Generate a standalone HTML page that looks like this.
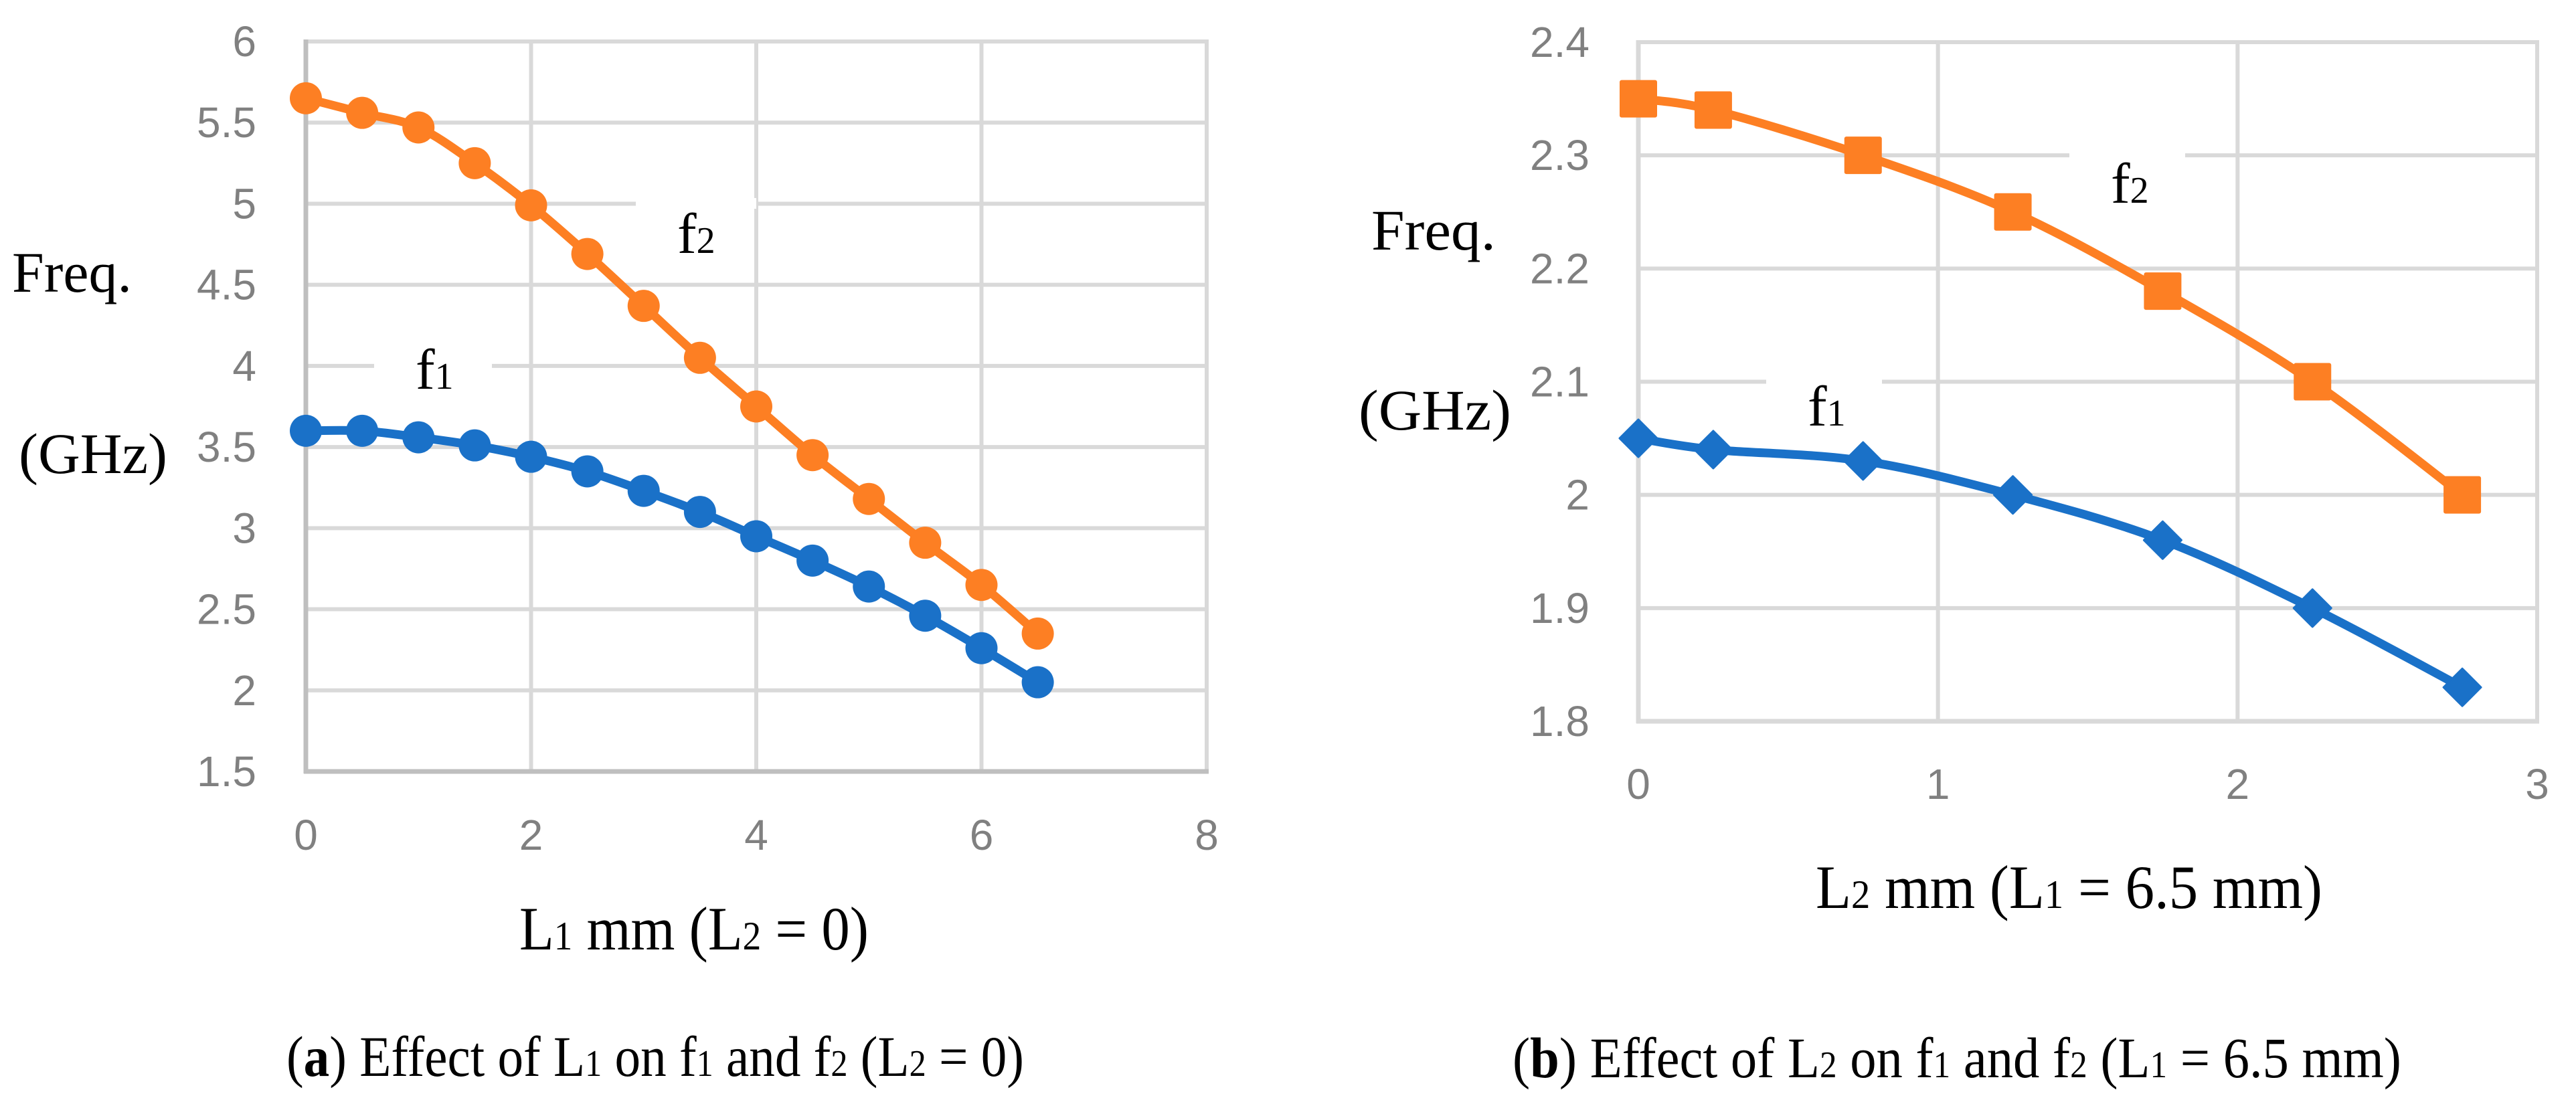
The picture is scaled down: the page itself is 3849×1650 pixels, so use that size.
<!DOCTYPE html>
<html><head><meta charset="utf-8"><style>
html,body{margin:0;padding:0;background:#fff;}
svg{display:block;}
.tick{font-family:"Liberation Sans",sans-serif;font-size:64px;fill:#808080;}
.ser{font-family:"Liberation Serif",serif;fill:#000;}
</style></head><body>
<svg id="chart" width="3849" height="1650" viewBox="0 0 3849 1650" xmlns="http://www.w3.org/2000/svg">
<g id="gA"></g>
<g id="gB"></g>
<text class="ser" x="18" y="436" font-size="86" textLength="179" lengthAdjust="spacingAndGlyphs">Freq.</text>
<text class="ser" x="28" y="707" font-size="86" textLength="222" lengthAdjust="spacingAndGlyphs">(GHz)</text>
<text class="ser" x="2049" y="373" font-size="86" textLength="186" lengthAdjust="spacingAndGlyphs">Freq.</text>
<text class="ser" x="2030" y="642" font-size="86" textLength="228" lengthAdjust="spacingAndGlyphs">(GHz)</text>
<text class="ser" x="776" y="1419" font-size="92" textLength="522" lengthAdjust="spacingAndGlyphs">L<tspan font-size="60">1</tspan> mm (L<tspan font-size="60">2</tspan> = 0)</text>
<text class="ser" x="2713" y="1357" font-size="92" textLength="757" lengthAdjust="spacingAndGlyphs">L<tspan font-size="60">2</tspan> mm (L<tspan font-size="60">1</tspan> = 6.5 mm)</text>
<text class="ser" x="428" y="1608" font-size="86" textLength="1102" lengthAdjust="spacingAndGlyphs">(<tspan font-weight="bold">a</tspan>) Effect of L<tspan font-size="56">1</tspan> on f<tspan font-size="56">1</tspan> and f<tspan font-size="56">2</tspan> (L<tspan font-size="56">2</tspan> = 0)</text>
<text class="ser" x="2260" y="1610" font-size="86" textLength="1328" lengthAdjust="spacingAndGlyphs">(<tspan font-weight="bold">b</tspan>) Effect of L<tspan font-size="56">2</tspan> on f<tspan font-size="56">1</tspan> and f<tspan font-size="56">2</tspan> (L<tspan font-size="56">1</tspan> = 6.5 mm)</text>
</svg>
<script>
// Chart A data
const aX = [0,0.5,1,1.5,2,2.5,3,3.5,4,4.5,5,5.5,6,6.5];
const aF2 = [5.65,5.56,5.47,5.25,4.99,4.69,4.37,4.05,3.75,3.45,3.18,2.91,2.65,2.35];
const aF1 = [3.6,3.6,3.56,3.51,3.44,3.35,3.23,3.1,2.95,2.8,2.64,2.46,2.26,2.05];
const aYTicks = ["1.5","2","2.5","3","3.5","4","4.5","5","5.5","6"];
const aXTicks = ["0","2","4","6","8"];
// Chart B data
const bX = [0,0.25,0.75,1.25,1.75,2.25,2.75];
const bF2 = [2.35,2.34,2.30,2.25,2.18,2.10,2.00];
const bF1 = [2.05,2.04,2.03,2.00,1.96,1.90,1.83];
const bYTicks = ["1.8","1.9","2","2.1","2.2","2.3","2.4"];
const bXTicks = ["0","1","2","3"];

const NS="http://www.w3.org/2000/svg";
const ORANGE="#fd7f23", BLUE="#1a71c8";
function mk(p,tag,at){const e=document.createElementNS(NS,tag);for(const k in at)e.setAttribute(k,at[k]);p.appendChild(e);return e;}
function smooth(pts){let d="M"+pts[0][0]+","+pts[0][1];for(let i=0;i<pts.length-1;i++){const p0=pts[i-1]||pts[i],p1=pts[i],p2=pts[i+1],p3=pts[i+2]||p2;const t=1/6;
d+=" C"+(p1[0]+(p2[0]-p0[0])*t)+","+(p1[1]+(p2[1]-p0[1])*t)+" "+(p2[0]-(p3[0]-p1[0])*t)+","+(p2[1]-(p3[1]-p1[1])*t)+" "+p2[0]+","+p2[1];}return d;}

function drawChart(g,cfg){
  const sx=v=>cfg.L+(v-cfg.xmin)/(cfg.xmax-cfg.xmin)*(cfg.R-cfg.L);
  const sy=v=>cfg.B-(v-cfg.ymin)/(cfg.ymax-cfg.ymin)*(cfg.B-cfg.T);
  cfg.yTicks.forEach(t=>{const y=sy(parseFloat(t));
    if(parseFloat(t)!==cfg.ymin){const gl=mk(g,"line",{x1:cfg.L,x2:cfg.R,y1:y,y2:y,stroke:"#d9d9d9","stroke-width":6});
    
    }
    const tx=mk(g,"text",{x:cfg.L-cfg.yLabOff,y:y+22,"text-anchor":"end",class:"tick"});tx.textContent=t;
    
    
  });
  cfg.xTicks.forEach(t=>{const x=sx(parseFloat(t));
    if(parseFloat(t)!==cfg.xmin){const gl=mk(g,"line",{x1:x,x2:x,y1:cfg.T-3,y2:cfg.B,stroke:"#d9d9d9","stroke-width":6});
    
    }
    const tx=mk(g,"text",{x:x,y:cfg.xLabY,"text-anchor":"middle",class:"tick"});tx.textContent=t;
    
    
  });
  // label gaps
  cfg.labels.forEach(l=>{
    const r=mk(g,"rect",{x:l.gx1,y:l.gy-8,width:l.gx2-l.gx1,height:16,fill:"#fff"});
    
    
  });
  const ya=mk(g,"line",{x1:cfg.L,x2:cfg.L,y1:cfg.T-3,y2:cfg.B+3,stroke:cfg.axisC,"stroke-width":7});
  
  
  const xa=mk(g,"line",{x1:cfg.L-3,x2:cfg.R+3,y1:cfg.B,y2:cfg.B,stroke:cfg.axisC,"stroke-width":7});
  
  
  cfg.series.forEach(s=>{
    const pts=cfg.xs.map((x,i)=>[sx(x),sy(s.vals[i])]);
    const ln=mk(g,"path",{d:smooth(pts),fill:"none",stroke:s.color,"stroke-width":13,"stroke-linejoin":"round"});
    
    
    pts.forEach(p=>{let m;
      if(s.marker==="circle") m=mk(g,"circle",{cx:p[0],cy:p[1],r:24,fill:s.color});
      else if(s.marker==="square") m=mk(g,"rect",{x:p[0]-28,y:p[1]-28,width:56,height:56,rx:3,fill:s.color});
      else m=mk(g,"path",{d:`M${p[0]},${p[1]-28} L${p[0]+28},${p[1]} L${p[0]},${p[1]+28} L${p[0]-28},${p[1]} Z`,fill:s.color,"stroke":s.color,"stroke-width":3,"stroke-linejoin":"round"});
      
      
    });
  });
  cfg.labels.forEach(l=>{
    const t=mk(g,"text",{x:l.x,y:l.y,class:"ser","font-size":86});
    t.innerHTML=`f<tspan font-size="56">${l.sub}</tspan>`;
    
    
  });
}
drawChart(document.getElementById("gA"),{L:457,R:1803,T:62,B:1153,xmin:0,xmax:8,ymin:1.5,ymax:6,
  yTicks:aYTicks,xTicks:aXTicks,xs:aX,yLabOff:74,xLabY:1270,axisC:"#bfbfbf",
  series:[{name:"f2",vals:aF2,color:ORANGE,marker:"circle"},{name:"f1",vals:aF1,color:BLUE,marker:"circle"}],
  labels:[{x:1012,y:378,sub:"2",gx1:950,gx2:1130,gy:304},{x:621,y:581,sub:"1",gx1:559,gx2:735,gy:546}]});
drawChart(document.getElementById("gB"),{L:2448,R:3791,T:63,B:1078,xmin:0,xmax:3,ymin:1.8,ymax:2.4,
  yTicks:bYTicks,xTicks:bXTicks,xs:bX,yLabOff:73,xLabY:1194,axisC:"#d9d9d9",
  series:[{name:"f2",vals:bF2,color:ORANGE,marker:"square"},{name:"f1",vals:bF1,color:BLUE,marker:"diamond"}],
  labels:[{x:3154,y:303,sub:"2",gx1:3092,gx2:3265,gy:232},{x:2701,y:636,sub:"1",gx1:2639,gx2:2812,gy:570}]});
</script>
</body></html>
